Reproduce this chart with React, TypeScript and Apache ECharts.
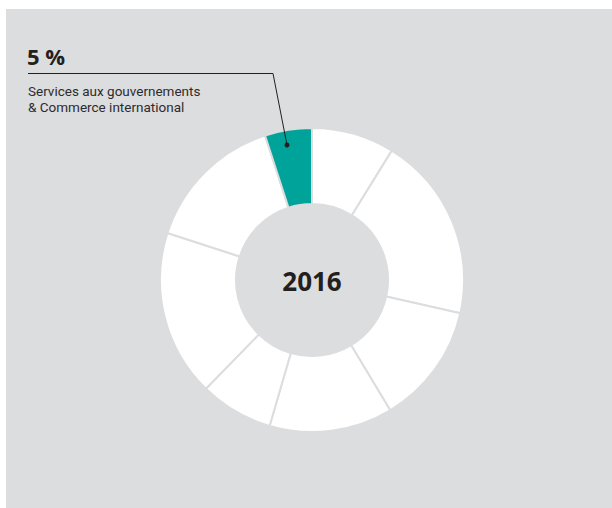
import React, { useEffect, useRef } from "react";
import * as echarts from "echarts";

const categories = [
  "Segment 1",
  "Segment 2",
  "Segment 3",
  "Segment 4",
  "Segment 5",
  "Segment 6",
  "Segment 7",
  "Services aux gouvernements & Commerce international",
];
const values = [8.8, 19.7, 12.9, 13.1, 7.8, 17.7, 15, 5];
const highlightIndex = 7;
const highlightLabel = "5 %";
const labelLines = ["Services aux gouvernements", "& Commerce international"];
const centerLabel = "2016";

const BG = "#dcdddf";
const TEAL = "#00a39a";
const INK = "#231f20";
const FONT = "'Open Sans', sans-serif";
const LABEL_FONT = "Roboto, sans-serif";

export default function App() {
  const ref = useRef<HTMLDivElement>(null);
  useEffect(() => {
    document.body.style.margin = "0";
    const chart = echarts.init(ref.current!, undefined, { renderer: "svg" });
    chart.setOption({
      animation: false,
      backgroundColor: "#ffffff",
      graphic: [
        { type: "rect", z: -10, shape: { x: 6, y: 9, width: 606, height: 499 }, style: { fill: BG } },
        {
          type: "text",
          z: 10,
          style: { text: highlightLabel, x: 27, y: 56, font: `700 22px ${FONT}`, fill: INK, verticalAlign: "middle" },
        },
        {
          type: "text",
          z: 10,
          style: { text: labelLines[0], x: 28, y: 90.5, font: `400 13.5px ${LABEL_FONT}`, fill: "#2e2b2c", verticalAlign: "middle" },
        },
        {
          type: "text",
          z: 10,
          style: { text: labelLines[1], x: 28, y: 106.5, font: `400 13.5px ${LABEL_FONT}`, fill: "#2e2b2c", verticalAlign: "middle" },
        },
        {
          type: "polyline",
          z: 10,
          shape: { points: [[28, 73.5], [273, 73.5], [287, 145]] },
          style: { stroke: INK, lineWidth: 1, fill: null },
        },
        { type: "circle", z: 10, shape: { cx: 287, cy: 145, r: 2.5 }, style: { fill: INK } },
        {
          type: "text",
          z: 10,
          style: { text: centerLabel, x: 312, y: 281, font: `700 26px ${FONT}`, fill: INK, align: "center", verticalAlign: "middle" },
        },
      ],
      series: [
        {
          type: "pie",
          center: [312, 280],
          radius: [76, 152],
          startAngle: 90,
          clockwise: true,
          silent: true,
          label: { show: false },
          labelLine: { show: false },
          itemStyle: { borderColor: BG, borderWidth: 2 },
          data: categories.map((name, i) => ({
            name,
            value: values[i],
            itemStyle: { color: i === highlightIndex ? TEAL : "#ffffff" },
          })),
        },
      ],
    });
    return () => chart.dispose();
  }, []);
  return <div ref={ref} style={{ position: "absolute", left: 0, top: 0, width: 612, height: 508 }} />;
}
